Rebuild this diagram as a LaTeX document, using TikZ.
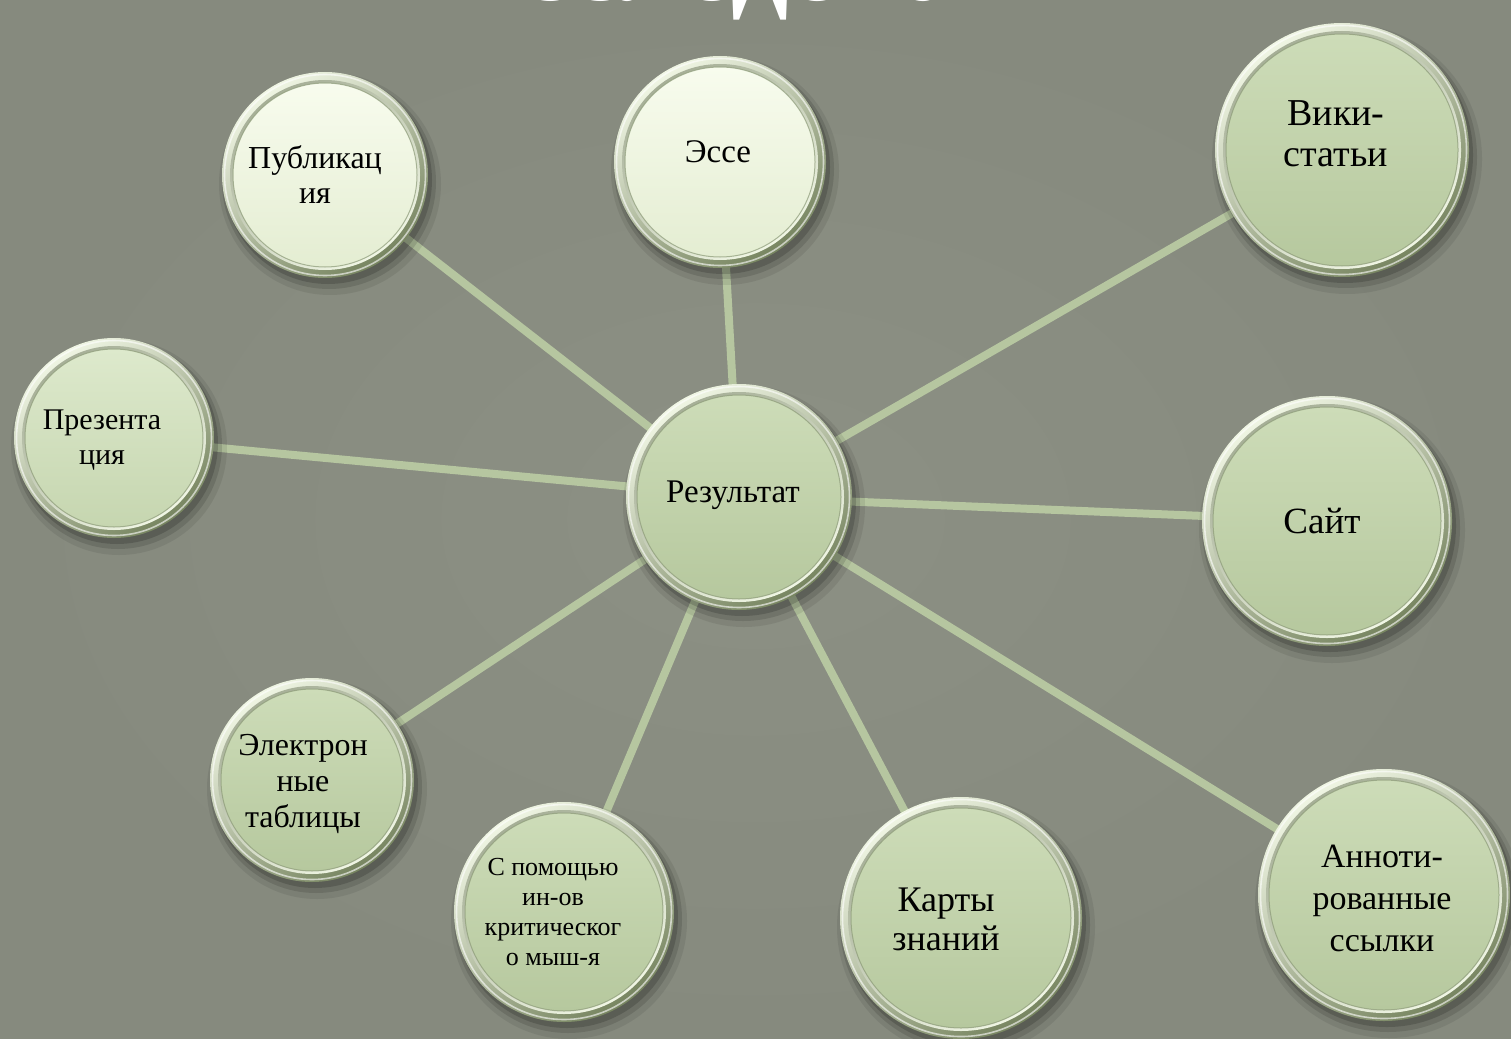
\documentclass[tikz,border=0pt]{standalone}
\usepackage{fontspec}
\setmainfont{Liberation Serif}
\pgfdeclarelayer{bg}
\pgfdeclarelayer{lines}
\pgfsetlayers{bg,lines,main}
\definecolor{bgcol}{HTML}{868A7E}
\definecolor{bgcolin}{HTML}{8C9084}
\definecolor{conncol}{HTML}{B6C6A0}
\definecolor{rimlight}{HTML}{F0F6E4}
\definecolor{rimdark}{HTML}{76845F}
\definecolor{innerline}{HTML}{8C9A78}
\definecolor{paleA}{HTML}{F8FCEE}
\definecolor{paleB}{HTML}{E4EDD2}
\definecolor{grA}{HTML}{CDDCB8}
\definecolor{grB}{HTML}{B6C89E}
\definecolor{grlA}{HTML}{DDE9CC}
\definecolor{grlB}{HTML}{C6D6B0}
\tikzset{
  hub/.style={circle, inner sep=0pt, draw=none},
  conn/.style={draw=conncol, line width=8pt},
  lbl/.style={align=center, text=black, inner sep=0pt},
}
% #1 name, #2 x, #3 y, #4 radius, #5 inner top colour, #6 inner bottom colour
\newcommand\bubble[6]{%
  \fill[black, opacity=.08] (#2+5,#3+9) circle ({#4+8});
  \fill[black, opacity=.12] (#2+4,#3+7) circle ({#4+4});
  \fill[black, opacity=.16] (#2+3,#3+5) circle ({#4+1});
  \shade[top color=rimlight, bottom color=rimdark, shading angle=35] (#2,#3) circle (#4);
  \draw[white, opacity=.6, line width=1.6pt] (#2,#3) circle ({#4-2.5});
  \shade[top color=rimdark!65!white, bottom color=rimlight, shading angle=35] (#2,#3) circle ({#4-8});
  \shade[top color=#5, bottom color=#6] (#2,#3) circle ({#4-11});
  \draw[innerline, opacity=.7, line width=1pt] (#2,#3) circle ({#4-11});
  \node[hub, minimum size={2*#4*1pt}] (#1) at (#2,#3) {};
}
\newcommand\fsz[2]{\fontsize{#1}{#2}\selectfont}
\begin{document}
\begin{tikzpicture}[x=1pt, y=-1pt]
\useasboundingbox (0,0) rectangle (1511,1038);
\begin{pgfonlayer}{bg}
  \shade[inner color=bgcolin, outer color=bgcol] (0,0) rectangle (1511,1038);
\end{pgfonlayer}

% title (cut off by the top edge)
\node[anchor=base, text=white, inner sep=0pt, font=\fontsize{113}{120}\selectfont\bfseries] (title) at (805,1) {исследований};

\bubble{pub}{325}{175}{103}{paleA}{paleB}
\bubble{ess}{720}{162}{106}{paleA}{paleB}
\bubble{wiki}{1342}{150}{127}{grA}{grB}
\bubble{pres}{114}{438}{100}{grlA}{grlB}
\bubble{res}{739}{497}{113}{grA}{grB}
\bubble{site}{1327}{521}{125}{grA}{grB}
\bubble{elec}{312}{780}{102}{grA}{grB}
\bubble{help}{564}{912}{110}{grA}{grB}
\bubble{maps}{961}{918}{121}{grA}{grB}
\bubble{ann}{1384}{895}{126}{grA}{grB}

\node[lbl, font=\fsz{32}{35}] (pub-t) at (315,175) {Публикац\\ия};
\node[lbl, font=\fsz{33}{37}] (ess-t) at (718,152) {Эссе};
\node[lbl, font=\fsz{38}{41}] (wiki-t) at (1336,134) {Вики-\\статьи};
\node[lbl, font=\fsz{30}{35}] (pres-t) at (102,440) {Презента\\ция};
\node[lbl, font=\fsz{33}{37}] (res-t) at (733,495) {Результат};
\node[lbl, font=\fsz{37}{41}] (site-t) at (1322,521) {Сайт};
\node[lbl, font=\fsz{32}{36}] (elec-t) at (303,784) {Электрон\\ные\\таблицы};
\node[lbl, font=\fsz{26}{30}] (help-t) at (553,912) {С помощью\\ин-ов\\критическог\\о мыш-я};
\node[lbl, font=\fsz{36}{39}] (maps-t) at (946,919) {Карты\\знаний};
\node[lbl, font=\fsz{34}{42}] (ann-t) at (1382,898) {Анноти-\\рованные\\ссылки};

\begin{pgfonlayer}{lines}
  \draw[conn] (res.center) -- (pub.center);
  \draw[conn] (res.center) -- (ess.center);
  \draw[conn] (res.center) -- (wiki.center);
  \draw[conn] (res.center) -- (pres.center);
  \draw[conn] (res.center) -- (site.center);
  \draw[conn] (res.center) -- (elec.center);
  \draw[conn] (res.center) -- (help.center);
  \draw[conn] (res.center) -- (maps.center);
  \draw[conn] (res.center) -- (ann.center);
\end{pgfonlayer}
\end{tikzpicture}
\end{document}
